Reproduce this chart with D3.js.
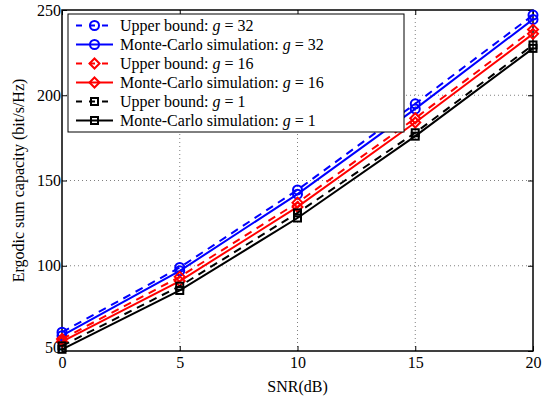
<!DOCTYPE html>
<html>
<head>
<meta charset="utf-8">
<script src="https://cdn.jsdelivr.net/npm/d3@7"></script>
<style>
  body { margin: 0; background: #fff; }
  svg text { font-family: "Liberation Serif", "Times New Roman", "DejaVu Serif", serif !important; }
</style>
</head>
<body>
<script>
const snr = [0, 5, 10, 15, 20];
const ub32 = [61, 99, 144.5, 195, 247];
const mc32 = [59, 97, 142, 192, 244.5];
const ub16 = [57, 93.5, 137, 186.5, 238.5];
const mc16 = [55.5, 91, 134.5, 184, 236];
const ub1 = [53, 88, 131, 178, 229.5];
const mc1 = [51, 85.5, 128, 176, 227.5];
const xTicks = [0, 5, 10, 15, 20];
const yTicks = [50, 100, 150, 200, 250];

const series = [
  { name: "Upper bound: ", g: "32", vals: ub32, color: "#0000ff", dash: true, mk: "circle" },
  { name: "Monte-Carlo simulation: ", g: "32", vals: mc32, color: "#0000ff", dash: false, mk: "circle" },
  { name: "Upper bound: ", g: "16", vals: ub16, color: "#ff0000", dash: true, mk: "diamond" },
  { name: "Monte-Carlo simulation: ", g: "16", vals: mc16, color: "#ff0000", dash: false, mk: "diamond" },
  { name: "Upper bound: ", g: "1", vals: ub1, color: "#000000", dash: true, mk: "square" },
  { name: "Monte-Carlo simulation: ", g: "1", vals: mc1, color: "#000000", dash: false, mk: "square" }
];

const width = 542, height = 401;
const m = { left: 62, right: 9, top: 10, bottom: 50 };
const serif = "'Liberation Serif', 'Times New Roman', serif";

const svg = d3.select("body").append("svg")
  .attr("width", width).attr("height", height)
  .attr("font-family", serif);

const x = d3.scaleLinear().domain([0, 20]).range([m.left, width - m.right]);
const y = d3.scaleLinear().domain([50, 250]).range([height - m.bottom, m.top]);

// grid
svg.append("g").selectAll("line").data(xTicks.slice(1, -1)).enter().append("line")
  .attr("x1", d => x(d)).attr("x2", d => x(d))
  .attr("y1", y(50)).attr("y2", y(250))
  .attr("stroke", "#808080").attr("stroke-width", 1).attr("stroke-dasharray", "1,3");
svg.append("g").selectAll("line").data(yTicks.slice(1, -1)).enter().append("line")
  .attr("x1", x(0)).attr("x2", x(20))
  .attr("y1", d => y(d)).attr("y2", d => y(d))
  .attr("stroke", "#808080").attr("stroke-width", 1).attr("stroke-dasharray", "1,3");

// axes (ticks inside on all four sides)
const tl = 5;
svg.append("g").attr("transform", "translate(0," + y(50) + ")")
  .call(d3.axisBottom(x).tickValues(xTicks).tickSize(-tl).tickPadding(6))
  .call(g => g.select(".domain").remove());
svg.append("g").attr("transform", "translate(0," + y(250) + ")")
  .call(d3.axisTop(x).tickValues(xTicks).tickSize(-tl).tickFormat(""))
  .call(g => g.select(".domain").remove());
svg.append("g").attr("class", "yax").attr("transform", "translate(" + x(0) + ",0)")
  .call(d3.axisLeft(y).tickValues(yTicks).tickSize(-tl).tickPadding(1))
  .call(g => g.select(".domain").remove());
svg.append("g").attr("transform", "translate(" + x(20) + ",0)")
  .call(d3.axisRight(y).tickValues(yTicks).tickSize(-tl).tickFormat(""))
  .call(g => g.select(".domain").remove());
svg.selectAll("g").attr("font-family", serif);
svg.selectAll(".tick text").attr("font-size", 16).attr("fill", "#000");
svg.selectAll(".tick line").attr("stroke", "#000");
// lift the lowest y label a touch so it does not collide with the x "0"
svg.select(".yax").selectAll(".tick text").filter(d => d === 50).attr("dy", "0.1em");

svg.append("rect")
  .attr("x", x(0)).attr("y", y(250))
  .attr("width", x(20) - x(0)).attr("height", y(50) - y(250))
  .attr("fill", "none").attr("stroke", "#000").attr("stroke-width", 1.5);

// labels
svg.append("text").attr("x", (x(0) + x(20)) / 2).attr("y", 392)
  .attr("text-anchor", "middle").attr("font-size", 16).text("SNR(dB)");
svg.append("text")
  .attr("transform", "translate(24," + (y(50) + y(250)) / 2 + ") rotate(-90)")
  .attr("text-anchor", "middle").attr("font-size", 16).text("Ergodic sum capacity (bit/s/Hz)");

function marker(g, type, cx, cy, color) {
  if (type === "circle") {
    g.append("circle").attr("cx", cx).attr("cy", cy).attr("r", 4.5)
      .attr("fill", "none").attr("stroke", color).attr("stroke-width", 2);
  } else if (type === "diamond") {
    const r = 5;
    g.append("path").attr("d", `M${cx},${cy - r}L${cx + r},${cy}L${cx},${cy + r}L${cx - r},${cy}Z`)
      .attr("fill", "none").attr("stroke", color).attr("stroke-width", 2);
  } else {
    const s = 3.5;
    g.append("rect").attr("x", cx - s).attr("y", cy - s).attr("width", 2 * s).attr("height", 2 * s)
      .attr("fill", "none").attr("stroke", color).attr("stroke-width", 2);
  }
}

const line = d3.line().x((d, i) => x(snr[i])).y(d => y(d));
const plot = svg.append("g");
series.forEach(s => {
  plot.append("path").datum(s.vals).attr("d", line)
    .attr("fill", "none").attr("stroke", s.color).attr("stroke-width", 2)
    .attr("stroke-dasharray", s.dash ? "8,6" : null);
  s.vals.forEach((v, i) => marker(plot, s.mk, x(snr[i]), y(v), s.color));
});

// legend
const lg = svg.append("g");
lg.append("rect").attr("x", 68).attr("y", 14).attr("width", 336).attr("height", 118)
  .attr("fill", "#fff").attr("stroke", "#000").attr("stroke-width", 1);
series.forEach((s, i) => {
  const ry = 25.5 + i * 19;
  lg.append("line").attr("x1", 76).attr("x2", 113).attr("y1", ry).attr("y2", ry)
    .attr("stroke", s.color).attr("stroke-width", 2)
    .attr("stroke-dasharray", s.dash ? "6,7" : null);
  marker(lg, s.mk, 94.5, ry, s.color);
  const t = lg.append("text").attr("x", 120).attr("y", ry + 5).attr("font-size", 16);
  t.append("tspan").text(s.name);
  t.append("tspan").attr("font-style", "italic").text("g");
  t.append("tspan").text(" = " + s.g);
});
</script>
</body>
</html>
